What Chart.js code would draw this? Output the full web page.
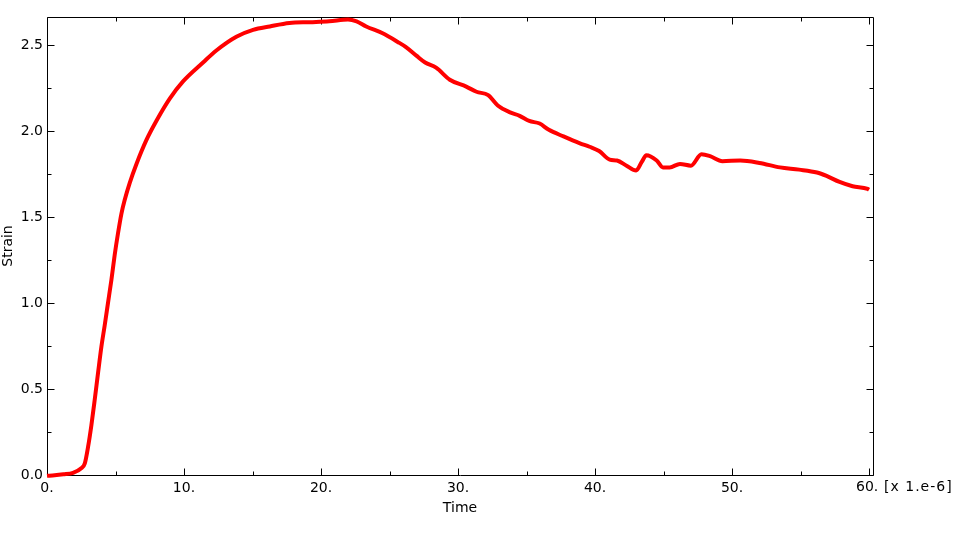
<!DOCTYPE html>
<html>
<head>
<meta charset="utf-8">
<script src="https://cdn.jsdelivr.net/npm/chart.js@4.4.1/dist/chart.umd.min.js"></script>
<style>
  html, body { margin: 0; padding: 0; background: #fff; }
  #wrap { width: 966px; height: 543px; }
</style>
</head>
<body>
<div id="wrap"><canvas id="strainChart" width="966" height="543"></canvas></div>
<script>
// time in units of 1e-6
const times = [
  0, 1.2, 1.9, 2.5, 2.76, 3.0, 3.24, 3.48, 3.72, 3.97, 4.21, 4.45, 4.7, 4.94,
  5.18, 5.43, 5.67, 6.04, 6.53, 7.26, 7.98, 8.96, 9.93, 11.39, 12.36, 13.82,
  15.04, 16.26, 17.7, 19.2, 20.6, 21.97, 22.6, 23.3, 24.5, 25.6, 26.2, 26.96,
  27.6, 28.4, 29.4, 30.6, 31.35, 32.2, 32.9, 33.8, 34.5, 35.2, 35.96, 36.6,
  37.7, 38.9, 39.6, 40.3, 41.07, 41.6, 42.3, 43.0, 43.4, 43.75, 44.5, 44.96,
  45.45, 46.2, 47.0, 47.77, 48.4, 49.3, 50.6, 52.0, 53.5, 54.9, 56.2, 56.9,
  57.85, 58.8, 59.9, 60.0
];
const strain = [
  -0.005, 0.004, 0.013, 0.039, 0.068, 0.165, 0.29, 0.436, 0.59, 0.746, 0.87,
  1.0, 1.135, 1.28, 1.405, 1.52, 1.6, 1.7, 1.81, 1.95, 2.06, 2.19, 2.29, 2.4,
  2.47, 2.55, 2.59, 2.61, 2.63, 2.635, 2.64, 2.651, 2.64, 2.61, 2.57, 2.52,
  2.49, 2.44, 2.4, 2.37, 2.3, 2.26, 2.23, 2.21, 2.15, 2.11, 2.09, 2.06, 2.045,
  2.01, 1.97, 1.93, 1.91, 1.885, 1.835, 1.83, 1.8, 1.772, 1.82, 1.86, 1.83,
  1.79, 1.79, 1.81, 1.8, 1.866, 1.855, 1.826, 1.83, 1.816, 1.79, 1.777, 1.76,
  1.74, 1.705, 1.68, 1.665, 1.66
];
const xLabels = [0, 10, 20, 30, 40, 50, 60];
const yLabels = [0, 0.5, 1.0, 1.5, 2.0, 2.5];
const xMinor = [0, 5, 10, 15, 20, 25, 30, 35, 40, 45, 50, 55, 60];
const yMinor = [0, 0.25, 0.5, 0.75, 1.0, 1.25, 1.5, 1.75, 2.0, 2.25, 2.5];

const FONT = 'DejaVu Sans, Verdana, sans-serif';

// box with inward ticks on all four sides
const frame = {
  id: 'frame',
  beforeDatasetsDraw(chart) {
    const { ctx, chartArea: a, scales: { x, y } } = chart;
    const L = Math.round(a.left) + 0.5, R = Math.round(a.right) + 0.5;
    const T = Math.round(a.top) + 0.5, B = Math.round(a.bottom) + 0.5;
    ctx.save();
    ctx.strokeStyle = '#000';
    ctx.lineWidth = 1;
    ctx.beginPath();
    ctx.rect(L, T, R - L, B - T);
    xMinor.forEach(v => {
      const px = Math.round(x.getPixelForValue(v)) + 0.5;
      const len = v % 10 === 0 ? 7 : 4;
      ctx.moveTo(px, B); ctx.lineTo(px, B - len);
      ctx.moveTo(px, T); ctx.lineTo(px, T + len);
    });
    yMinor.forEach(v => {
      const py = Math.round(y.getPixelForValue(v)) + 0.5;
      const len = Math.abs(v * 2 - Math.round(v * 2)) < 1e-6 ? 7 : 4;
      ctx.moveTo(L, py); ctx.lineTo(L + len, py);
      ctx.moveTo(R, py); ctx.lineTo(R - len, py);
    });
    ctx.stroke();
    ctx.restore();
  },
  afterDraw(chart) {
    const { ctx, scales: { x } } = chart;
    ctx.save();
    ctx.fillStyle = '#000';
    ctx.font = '14px ' + FONT;
    ctx.textAlign = 'left';
    ctx.textBaseline = 'middle';
    const px = x.getPixelForValue(60);
    ctx.fillText('60.', px - 13, 487);
    ctx.letterSpacing = '1px';
    ctx.fillText('[x 1.e-6]', px + 15, 487);
    ctx.restore();
  }
};

new Chart(document.getElementById('strainChart'), {
  type: 'line',
  data: {
    datasets: [{
      data: times.map((t, i) => ({ x: t, y: strain[i] })),
      borderColor: '#ff0000',
      borderWidth: 4,
      pointRadius: 0,
      cubicInterpolationMode: 'monotone',
      clip: false,
      fill: false,
    }],
  },
  options: {
    responsive: false,
    animation: false,
    devicePixelRatio: 1,
    layout: { padding: { top: 17, right: 93, left: 0, bottom: 0 } },
    plugins: {
      legend: { display: false },
      tooltip: { enabled: false },
    },
    scales: {
      x: {
        type: 'linear',
        min: 0,
        max: 60.29,
        grid: { display: false, drawTicks: false },
        border: { display: false },
        afterBuildTicks: s => { s.ticks = xLabels.map(v => ({ value: v })); },
        afterFit: s => { s.height = 68; },
        ticks: {
          color: '#000',
          padding: 5,
          maxRotation: 0,
          autoSkip: false,
          font: { family: FONT, size: 14 },
          callback: v => (v === 60 ? '' : v + '.'),
        },
        title: {
          display: true,
          text: 'Time',
          color: '#000',
          font: { family: FONT, size: 14 },
          padding: { top: 0, bottom: 26 },
        },
      },
      y: {
        type: 'linear',
        min: 0,
        max: 2.665,
        grid: { display: false, drawTicks: false },
        border: { display: false },
        afterBuildTicks: s => { s.ticks = yLabels.map(v => ({ value: v })); },
        afterFit: s => { s.width = 47; },
        ticks: {
          color: '#000',
          padding: 4,
          autoSkip: false,
          font: { family: FONT, size: 14 },
          callback: v => v.toFixed(1),
        },
        title: {
          display: true,
          text: 'Strain',
          color: '#000',
          font: { family: FONT, size: 14 },
          padding: { top: 0, bottom: 0 },
        },
      },
    },
  },
  plugins: [frame],
});
</script>
</body>
</html>
